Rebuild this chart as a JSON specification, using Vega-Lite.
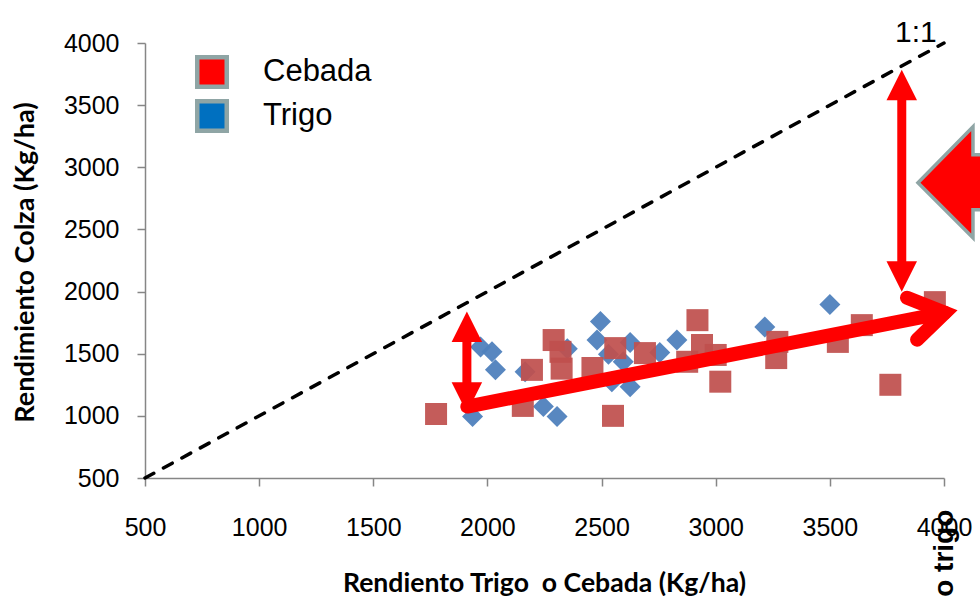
{
  "$schema": "https://vega.github.io/schema/vega-lite/v6.json",
  "autosize": {"type": "none"},
  "padding": {"left": 145, "top": 43, "right": 36, "bottom": 118},
  "width": 799,
  "height": 435,
  "background": "white",
  "config": {
    "view": {"stroke": null},
    "legend": {"orient": "none", "legendX": 50, "legendY": 12, "padding": 0}
  },
  "datasets": {
    "points": [
      {"cultivo": "Trigo", "x": 1970, "y": 1555},
      {"cultivo": "Trigo", "x": 2020, "y": 1515},
      {"cultivo": "Trigo", "x": 2035, "y": 1370},
      {"cultivo": "Trigo", "x": 1935, "y": 995},
      {"cultivo": "Trigo", "x": 2165, "y": 1355},
      {"cultivo": "Trigo", "x": 2245, "y": 1075},
      {"cultivo": "Trigo", "x": 2305, "y": 995},
      {"cultivo": "Trigo", "x": 2350, "y": 1540},
      {"cultivo": "Trigo", "x": 2495, "y": 1760},
      {"cultivo": "Trigo", "x": 2480, "y": 1610},
      {"cultivo": "Trigo", "x": 2625, "y": 1590},
      {"cultivo": "Trigo", "x": 2530, "y": 1495},
      {"cultivo": "Trigo", "x": 2595, "y": 1435},
      {"cultivo": "Trigo", "x": 2545, "y": 1275},
      {"cultivo": "Trigo", "x": 2625, "y": 1235},
      {"cultivo": "Trigo", "x": 2755, "y": 1510},
      {"cultivo": "Trigo", "x": 2830, "y": 1610},
      {"cultivo": "Trigo", "x": 3215, "y": 1715},
      {"cultivo": "Trigo", "x": 3500, "y": 1895},
      {"cultivo": "Cebada", "x": 1775, "y": 1015},
      {"cultivo": "Cebada", "x": 2550, "y": 1000},
      {"cultivo": "Cebada", "x": 2155, "y": 1080},
      {"cultivo": "Cebada", "x": 2195, "y": 1370},
      {"cultivo": "Cebada", "x": 2290, "y": 1610},
      {"cultivo": "Cebada", "x": 2320, "y": 1515},
      {"cultivo": "Cebada", "x": 2325, "y": 1380},
      {"cultivo": "Cebada", "x": 2460, "y": 1385},
      {"cultivo": "Cebada", "x": 2560, "y": 1545},
      {"cultivo": "Cebada", "x": 2690, "y": 1505},
      {"cultivo": "Cebada", "x": 2920, "y": 1770},
      {"cultivo": "Cebada", "x": 2940, "y": 1570},
      {"cultivo": "Cebada", "x": 2875, "y": 1435},
      {"cultivo": "Cebada", "x": 3000, "y": 1490},
      {"cultivo": "Cebada", "x": 3020, "y": 1275},
      {"cultivo": "Cebada", "x": 3270, "y": 1595},
      {"cultivo": "Cebada", "x": 3265, "y": 1465},
      {"cultivo": "Cebada", "x": 3535, "y": 1595},
      {"cultivo": "Cebada", "x": 3640, "y": 1730},
      {"cultivo": "Cebada", "x": 3765, "y": 1250},
      {"cultivo": "Cebada", "x": 3960, "y": 1915}
    ],
    "diag": [{"x": 500, "y": 500}, {"x": 4000, "y": 4000}],
    "shaft": [{"x": 1912, "y": 1075, "x2": 4004, "y2": 1830}],
    "vshafts": [
      {"x": 1910, "y": 1693, "x2": 1910, "y2": 1170},
      {"x": 3815, "y": 3624, "x2": 3815, "y2": 2135}
    ],
    "chev": [
      {"seq": 1, "x": 3838, "y": 1951},
      {"seq": 2, "x": 4004, "y": 1830},
      {"seq": 3, "x": 3882, "y": 1613}
    ],
    "heads": [
      {"dir": "up", "x": 1910, "y": 1840},
      {"dir": "up", "x": 3815, "y": 3785},
      {"dir": "down", "x": 1910, "y": 1025},
      {"dir": "down", "x": 3815, "y": 1999}
    ],
    "big": [{"x": 3886, "y": 2876}],
    "ratio": [{"x": 3877, "y": 4010, "label": "1:1"}],
    "side": [{"x": 4039, "y": 245, "label": "Rendimiento trigo"}]
  },
  "encoding": {
    "x": {
      "field": "x", "type": "quantitative",
      "scale": {"domain": [500, 4000], "nice": false, "zero": false},
      "axis": {
        "values": [500, 1000, 1500, 2000, 2500, 3000, 3500, 4000], "format": "d",
        "grid": false, "tickSize": 8, "tickWidth": 1.5, "tickColor": "#868686",
        "domainColor": "#868686", "domainWidth": 1.5,
        "labelFont": "Liberation Sans", "labelFontSize": 25, "labelColor": "#000000",
        "labelPadding": 29, "labelFlush": false, "labelOverlap": false,
        "title": "Rendiento Trigo \u00a0o Cebada (Kg/ha)",
        "titleFont": "Lato", "titleFontSize": 26.6, "titleFontWeight": "bold", "titleColor": "#000000",
        "titleX": 399, "titleY": 113, "titleBaseline": "alphabetic", "titleAlign": "center"
      }
    },
    "y": {
      "field": "y", "type": "quantitative",
      "scale": {"domain": [500, 4000], "nice": false, "zero": false},
      "axis": {
        "values": [500, 1000, 1500, 2000, 2500, 3000, 3500, 4000], "format": "d",
        "grid": false, "tickSize": 8, "tickWidth": 1.5, "tickColor": "#868686",
        "domainColor": "#868686", "domainWidth": 1.5,
        "labelFont": "Liberation Sans", "labelFontSize": 25, "labelColor": "#000000",
        "labelPadding": 18, "labelOverlap": false,
        "title": "Rendimiento Colza (Kg/ha)",
        "titleFont": "Lato", "titleFontSize": 27, "titleFontWeight": "bold", "titleColor": "#000000",
        "titleX": -112, "titleY": 219, "titleAngle": -90, "titleBaseline": "alphabetic", "titleAlign": "center"
      }
    }
  },
  "layer": [
    {
      "data": {"name": "diag"},
      "mark": {"type": "line", "color": "#000000", "strokeWidth": 3.5, "strokeDash": [10, 11], "strokeCap": "round"},
      "encoding": {}
    },
    {
      "data": {"name": "points"},
      "mark": {"type": "point", "filled": true, "size": 0, "strokeWidth": 0, "opacity": 1},
      "encoding": {
        "fill": {
          "field": "cultivo", "type": "nominal",
          "scale": {"domain": ["Cebada", "Trigo"], "range": ["#FF0000", "#0070C0"]},
          "legend": {
            "title": null, "symbolType": "square", "symbolSize": 870,
            "symbolStrokeWidth": 4.5, "symbolStrokeColor": "#8FA5A5", "symbolOpacity": 1,
            "labelFont": "Liberation Sans", "labelFontSize": 31, "labelColor": "#000000",
            "labelOffset": 34, "rowPadding": -4
          }
        }
      }
    },
    {
      "data": {"name": "points"},
      "transform": [{"filter": "datum.cultivo === 'Trigo'"}],
      "mark": {"type": "point", "filled": true, "shape": "diamond", "size": 441, "color": "#4F81BD", "opacity": 0.95, "strokeWidth": 0}
    },
    {
      "data": {"name": "points"},
      "transform": [{"filter": "datum.cultivo === 'Cebada'"}],
      "mark": {"type": "point", "filled": true, "shape": "square", "size": 484, "color": "#C0504D", "opacity": 0.93, "strokeWidth": 0}
    },
    {
      "data": {"name": "shaft"},
      "mark": {"type": "rule", "color": "#FF0000", "strokeWidth": 14, "strokeCap": "round"},
      "encoding": {"x2": {"field": "x2"}, "y2": {"field": "y2"}}
    },
    {
      "data": {"name": "vshafts"},
      "mark": {"type": "rule", "color": "#FF0000", "strokeWidth": 9},
      "encoding": {"x2": {"field": "x2"}, "y2": {"field": "y2"}}
    },
    {
      "data": {"name": "chev"},
      "mark": {"type": "line", "color": "#FF0000", "strokeWidth": 14, "strokeCap": "round", "strokeJoin": "miter"},
      "encoding": {"order": {"field": "seq", "type": "quantitative"}}
    },
    {
      "data": {"name": "heads"},
      "transform": [{"filter": "datum.dir === 'up'"}],
      "mark": {"type": "point", "filled": true, "color": "#FF0000", "opacity": 1, "shape": "M0,0L-1,2L1,2Z", "size": 930}
    },
    {
      "data": {"name": "heads"},
      "transform": [{"filter": "datum.dir === 'down'"}],
      "mark": {"type": "point", "filled": true, "color": "#FF0000", "opacity": 1, "shape": "M0,0L-1,-2L1,-2Z", "size": 930}
    },
    {
      "data": {"name": "big"},
      "mark": {"type": "point", "filled": true, "fill": "#FF0000", "stroke": "#8FA5A5", "strokeWidth": 3.5, "strokeJoin": "miter", "opacity": 1, "fillOpacity": 1, "strokeOpacity": 1, "shape": "M0,0L5.5,-5.6L5.5,-2.8L15,-2.8L15,2.7L5.5,2.7L5.5,5.5Z", "size": 400}
    },
    {
      "data": {"name": "ratio"},
      "mark": {"type": "text", "font": "Liberation Sans", "fontSize": 30, "color": "#000000", "align": "center", "baseline": "alphabetic"},
      "encoding": {"text": {"field": "label"}}
    },
    {
      "data": {"name": "side"},
      "mark": {"type": "text", "font": "Liberation Sans", "fontSize": 28, "fontWeight": "bold", "color": "#000000", "align": "right", "baseline": "alphabetic", "angle": 270},
      "encoding": {"text": {"field": "label"}}
    }
  ]
}
